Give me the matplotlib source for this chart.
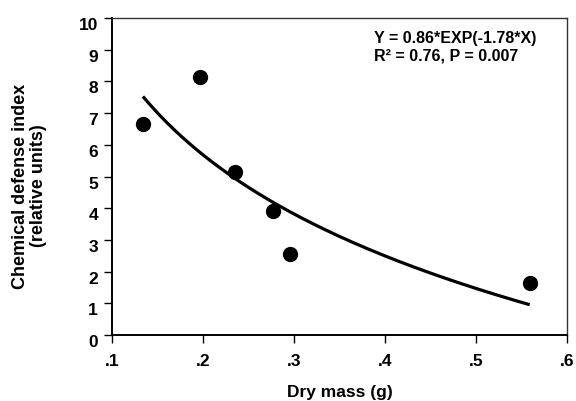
import numpy as np
import matplotlib
matplotlib.use("Agg")
import matplotlib.pyplot as plt
import matplotlib.transforms as mtransforms

# data
dry_mass = [0.134, 0.197, 0.235, 0.277, 0.296, 0.559]
defense_index = [6.66, 8.14, 5.14, 3.92, 2.54, 1.63]

# fitted curve as drawn (y = a + b*ln(x))
fit_a = -1.72
fit_b = -4.60
fit_xmin, fit_xmax = 0.134, 0.559

x_ticks = [0.1, 0.2, 0.3, 0.4, 0.5, 0.6]
x_ticklabels = [".1", ".2", ".3", ".4", ".5", ".6"]
y_ticks = list(range(0, 11))

plt.rcParams['font.family'] = ['Liberation Sans', 'DejaVu Sans']
plt.rcParams['font.weight'] = 'bold'

fig = plt.figure(figsize=(5.76, 4.02), dpi=100)
ax = fig.add_axes([0.1944, 0.1642, 0.79, 0.7885])

xs = np.linspace(fit_xmin, fit_xmax, 200)
ax.plot(xs, fit_a + fit_b * np.log(xs), color='black', lw=2.3, solid_capstyle='butt')
ax.scatter(dry_mass, defense_index, s=100, color='black', zorder=3)

ax.set_xlim(0.1, 0.6)
ax.set_ylim(0, 10)
ax.set_xticks(x_ticks)
ax.set_xticklabels(x_ticklabels)
ax.set_yticks(y_ticks)
ax.tick_params(direction='out', length=6, width=1, labelsize=12.5)
ax.tick_params(axis='y', pad=4)
ax.tick_params(axis='x', pad=7)
# y tick labels sit a little below their ticks in the original
shift = mtransforms.ScaledTranslation(0, -5 / 100, fig.dpi_scale_trans)
for lab in ax.get_yticklabels():
    lab.set_transform(lab.get_transform() + shift)
for lab in ax.get_xticklabels() + ax.get_yticklabels():
    lab.set_fontweight('bold')

for side in ['left', 'bottom']:
    ax.spines[side].set_linewidth(1.4)
    ax.spines[side].set_color('black')
for side in ['top', 'right']:
    ax.spines[side].set_linewidth(1.0)
    ax.spines[side].set_color('#333333')

ax.set_xlabel('Dry mass (g)', fontsize=12.5, fontweight='bold')
ax.xaxis.set_label_coords(0.5, -0.155)
ax.set_ylabel('Chemical defense index\n(relative units)', fontsize=13,
              fontweight='bold', linespacing=1.05)
ax.yaxis.set_label_coords(-0.143, 0.473)

ax.text(0.576, 0.962, 'Y = 0.86*EXP(-1.78*X)\nR² = 0.76, P = 0.007',
        transform=ax.transAxes, fontsize=11.5, fontweight='bold',
        va='top', ha='left', linespacing=1.2)

fig.savefig('out.png', dpi=100)
